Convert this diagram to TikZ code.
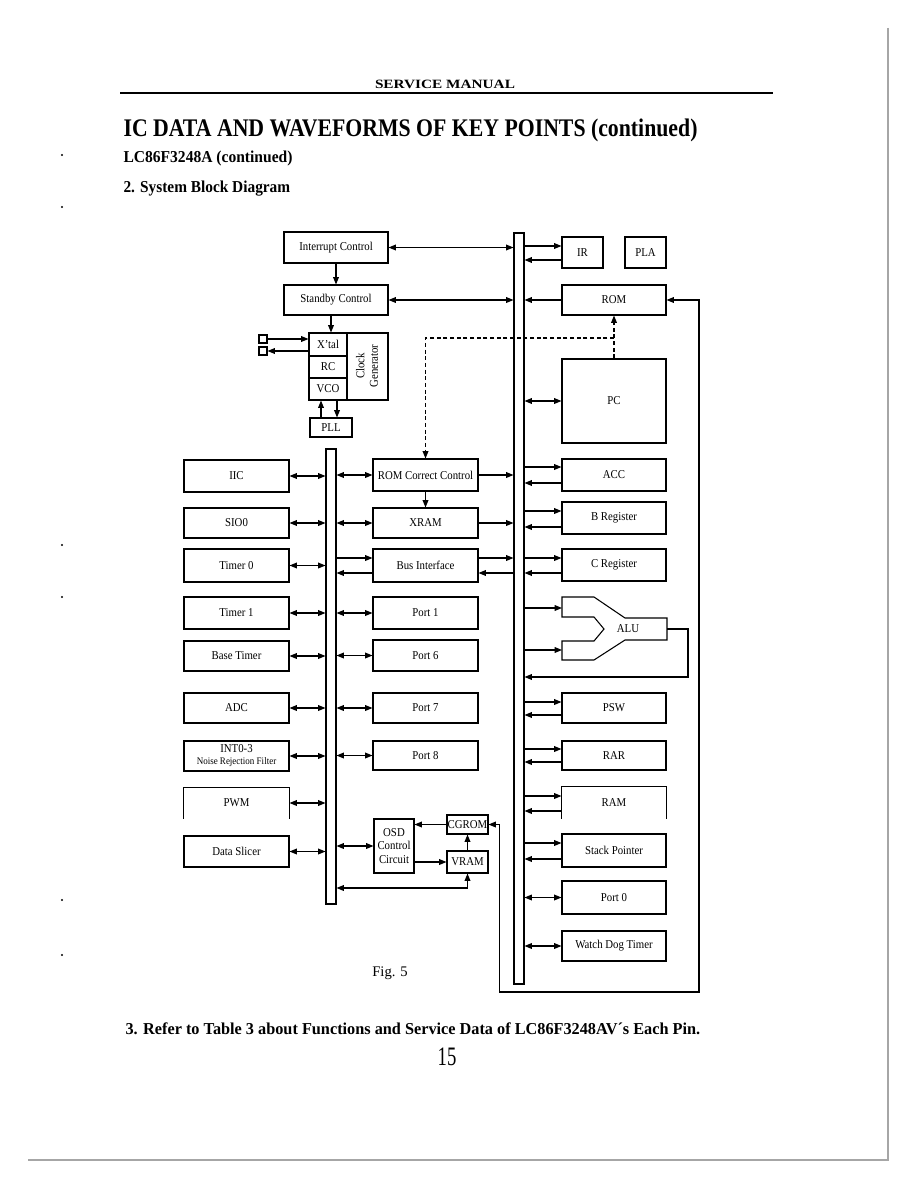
\documentclass[tikz,border=0pt]{standalone}
\usepackage{fontspec}
\setmainfont{Liberation Serif}
\newfontfamily\nar[FakeStretch=0.9]{Liberation Serif}
\usetikzlibrary{arrows.meta,calc}
\newcommand\bx[7][]{\node[box,#1, minimum width={(#5-#3)*0.75pt}, minimum height={(#6-#4)*0.75pt}] (#2) at ({(#3+#5)/2},{(#4+#6)/2}) {#7};}
\newcommand\rpair[3]{\draw[arr] (mbus.east |- 0,#2) -- (#1.west |- 0,#2); \draw[arr] (#1.west |- 0,#3) -- (mbus.east |- 0,#3);}
\newcommand\lbi[1]{\draw[barr] (#1.east) -- (#1.east -| lbus.west);}
\begin{document}
\begin{tikzpicture}[x=0.75pt,y=-0.75pt, line width=0.8pt,
  box/.style={draw, inner sep=0pt, font=\nar\fontsize{9}{10}\selectfont, align=center},
  lbl/.style={inner sep=0pt, font=\nar\fontsize{9}{10}\selectfont, align=center},
  arr/.style={-{Triangle[length=5.5pt,width=4.3pt]}},
  barr/.style={{Triangle[length=5.5pt,width=4.3pt]}-{Triangle[length=5.5pt,width=4.3pt]}},
  dsh/.style={dash pattern=on 3pt off 2pt}]
\useasboundingbox (0,0) rectangle (918,1188);
\fill[white] (0,0) rectangle (918,1188);

% page furniture
\node[inner sep=0pt] (hdr) at (445,84) {\resizebox{105pt}{\height}{\fontsize{9.5}{11}\selectfont\bfseries SERVICE MANUAL}};
\draw[line width=0.9pt] (120,93) -- (773,93);
\node[inner sep=0pt, anchor=base west] (title) at (123,136) {\resizebox{430.5pt}{\height}{\fontsize{19}{21}\selectfont\bfseries IC DATA AND WAVEFORMS OF KEY POINTS (continued)}};
\node[inner sep=0pt, anchor=base west] (sub) at (123,162) {\resizebox{126.75pt}{\height}{\fontsize{12.5}{14}\selectfont\bfseries LC86F3248A (continued)}};
\node[inner sep=0pt, anchor=base west] (sec) at (123,192) {\resizebox{125pt}{\height}{\fontsize{12.5}{14}\selectfont\bfseries 2. System Block Diagram}};
\node[inner sep=0pt] (fig) at (390,973) {\fontsize{11}{12}\selectfont Fig. 5};
\node[inner sep=0pt, anchor=base west] (refer) at (125,1034) {\resizebox{431pt}{\height}{\fontsize{12.5}{14}\selectfont\bfseries 3. Refer to Table 3 about Functions and Service Data of LC86F3248AV´s Each Pin.}};
\node[inner sep=0pt] (pgno) at (447,1057) {\resizebox{14pt}{\height}{\fontsize{20}{22}\selectfont 15}};
\draw[gray!70, line width=1pt] (888,28) -- (888,1160) -- (28,1160);
\foreach \yy in {155,207,545,597,900,955} \fill (62,\yy) circle[radius=0.8pt];

% buses
\bx{mbus}{514}{233}{524}{984}{}
\bx{lbus}{326}{449}{336}{904}{}

% top left control blocks
\bx{intc}{284}{232}{388}{263}{Interrupt Control}
\bx{stby}{284}{285}{388}{315}{Standby Control}
\bx{clk}{309}{333}{388}{400}{}
\bx{xtal}{309}{333}{347}{356}{X’tal}
\bx{rc}{309}{356}{347}{378}{RC}
\bx{vco}{309}{378}{347}{400}{VCO}
\node[lbl, rotate=90] (gen) at (367,366) {Clock\\Generator};
\bx{pll}{310}{418}{352}{437}{PLL}
\bx{sqa}{259}{335}{267}{343}{}
\bx{sqb}{259}{347}{267}{355}{}
\draw[arr] (sqa.east) -- (sqa.east -| xtal.west);
\draw[arr] (sqb.east -| xtal.west) -- (sqb.east);
\draw[arr] (intc.south) -- (stby.north);
\draw[arr] (stby.south -| 331,0) -- (clk.north -| 331,0);
\draw[arr] (pll.north -| 321,0) -- (vco.south -| 321,0);
\draw[arr] (vco.south -| 337,0) -- (pll.north -| 337,0);
\draw[barr] (intc.east) -- (intc.east -| mbus.west);
\draw[barr] (stby.east) -- (stby.east -| mbus.west);

% right column
\bx{ir}{562}{237}{603}{268}{IR}
\bx{pla}{625}{237}{666}{268}{PLA}
\bx{rom}{562}{285}{666}{315}{ROM}
\bx{pc}{562}{359}{666}{443}{PC}
\bx{acc}{562}{459}{666}{491}{ACC}
\bx{breg}{562}{502}{666}{534}{B Register}
\bx{creg}{562}{549}{666}{581}{C Register}
\bx{psw}{562}{693}{666}{723}{PSW}
\bx{rar}{562}{741}{666}{770}{RAR}
\bx[draw=none]{ram}{562}{787}{666}{818}{RAM}
\draw (ram.south west) -- (ram.north west) -- (ram.north east) -- (ram.south east);
\bx{sp}{562}{834}{666}{867}{Stack Pointer}
\bx{port0}{562}{881}{666}{914}{Port 0}
\bx{wdt}{562}{931}{666}{961}{Watch Dog Timer}

\rpair{ir}{246}{260}
\draw[arr] (rom.west) -- (rom.west -| mbus.east);
\draw[barr] (mbus.east |- pc.west) -- (pc.west);
\rpair{acc}{467}{483}
\rpair{breg}{511}{527}
\rpair{creg}{558}{573}
\rpair{psw}{702}{715}
\rpair{rar}{749}{762}
\rpair{ram}{796}{811}
\rpair{sp}{843}{859}
\draw[barr] (mbus.east |- port0.west) -- (port0.west);
\draw[barr] (mbus.east |- wdt.west) -- (wdt.west);

% ALU
\draw (562,597) -- (594,597) -- (625,618) -- (667,618) -- (667,640) -- (625,640) -- (594,660) -- (562,660) -- (562,641) -- (594,641) -- (604,629) -- (594,617) -- (562,617) -- cycle;
\node[lbl] (alu) at (628,629) {ALU};
\coordinate (aluia) at (562,608);
\coordinate (aluib) at (562,650);
\coordinate (aluout) at (667,629);
\draw[arr] (mbus.east |- aluia) -- (aluia);
\draw[arr] (mbus.east |- aluib) -- (aluib);
\draw[arr] (aluout) -- (688,629) -- (688,677) -- (mbus.east |- 0,677);

% left column
\bx{iic}{184}{460}{289}{492}{IIC}
\bx{sio}{184}{508}{289}{538}{SIO0}
\bx{tma}{184}{549}{289}{582}{Timer 0}
\bx{tmb}{184}{597}{289}{629}{Timer 1}
\bx{bt}{184}{641}{289}{671}{Base Timer}
\bx{adc}{184}{693}{289}{723}{ADC}
\bx{int}{184}{741}{289}{771}{INT0-3\\[-1pt]{\fontsize{7.5}{8}\selectfont Noise Rejection Filter}}
\bx[draw=none]{pwm}{184}{788}{289}{818}{PWM}
\draw (pwm.south west) -- (pwm.north west) -- (pwm.north east) -- (pwm.south east);
\bx{ds}{184}{836}{289}{867}{Data Slicer}
\lbi{iic}\lbi{sio}\lbi{tma}\lbi{tmb}\lbi{bt}\lbi{adc}\lbi{int}\lbi{pwm}\lbi{ds}

% middle column
\bx{rcc}{373}{459}{478}{491}{ROM Correct Control}
\bx{xram}{373}{508}{478}{538}{XRAM}
\bx{bi}{373}{549}{478}{582}{Bus Interface}
\bx{pa}{373}{597}{478}{629}{Port 1}
\bx{pf}{373}{640}{478}{671}{Port 6}
\bx{pg}{373}{693}{478}{723}{Port 7}
\bx{ph}{373}{741}{478}{770}{Port 8}
\bx{osd}{374}{819}{414}{873}{OSD\\Control\\Circuit}
\bx{cg}{447}{815}{488}{834}{CGROM}
\bx{vram}{447}{851}{488}{873}{VRAM}

\draw[barr] (lbus.east |- rcc.west) -- (rcc.west);
\draw[arr] (rcc.east) -- (rcc.east -| mbus.west);
\draw[arr] (rcc.south) -- (xram.north);
\draw[barr] (lbus.east |- xram.west) -- (xram.west);
\draw[arr] (xram.east) -- (xram.east -| mbus.west);
\draw[arr] (lbus.east |- 0,558) -- (bi.west |- 0,558);
\draw[arr] (bi.west |- 0,573) -- (lbus.east |- 0,573);
\draw[arr] (bi.east |- 0,558) -- (mbus.west |- 0,558);
\draw[arr] (mbus.west |- 0,573) -- (bi.east |- 0,573);
\draw[barr] (lbus.east |- pa.west) -- (pa.west);
\draw[barr] (lbus.east |- pf.west) -- (pf.west);
\draw[barr] (lbus.east |- pg.west) -- (pg.west);
\draw[barr] (lbus.east |- ph.west) -- (ph.west);
\draw[barr] (lbus.east |- osd.west) -- (osd.west);
\draw[arr] (cg.west) -- (cg.west -| osd.east);
\draw[arr] (osd.east |- vram.west) -- (vram.west);
\draw[arr] (vram.north) -- (cg.south);
\draw[barr] (lbus.east |- 0,888) -- (vram.south |- 0,888) -- (vram.south);

% feedback loop CGROM <-> ROM
\coordinate (fbk) at (699,992);
\draw[barr] (cg.east) -- ++(11,0) |- (fbk) |- (rom.east);

% dashed ROM correction path
\coordinate (dj) at (614,338);
\draw[dsh, arr] (pc.north -| dj) -- (rom.south -| dj);
\draw[dsh, arr] (dj) -| (rcc.north);
\end{tikzpicture}
\end{document}
